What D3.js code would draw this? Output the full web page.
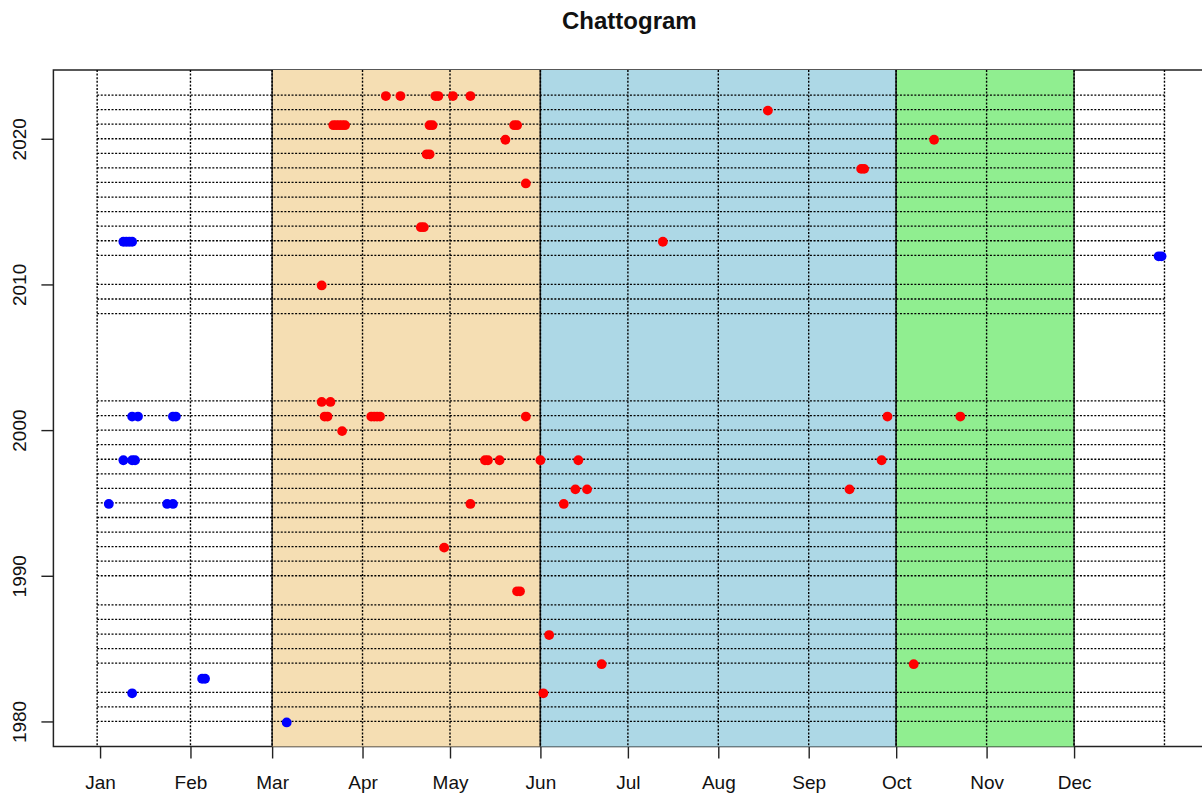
<!DOCTYPE html>
<html>
<head>
<meta charset="utf-8">
<script src="https://cdn.jsdelivr.net/npm/d3@7"></script>
<style>
  body { margin: 0; background: #fff; }
  text { font-family: "Liberation Sans", Arial, sans-serif; }
</style>
</head>
<body>
<div id="chart"></div>
<script>
// Data: [year, day of year]
const blueEvents = [
  [2013, 9], [2013, 10], [2013, 11], [2013, 12],
  [2012, 364], [2012, 365],
  [2001, 12], [2001, 14], [2001, 26], [2001, 27],
  [1998, 9], [1998, 12], [1998, 13],
  [1995, 4], [1995, 24], [1995, 26],
  [1983, 36], [1983, 37],
  [1982, 12],
  [1980, 65]
];

const redEvents = [
  [2023, 99], [2023, 104], [2023, 116], [2023, 117], [2023, 122], [2023, 128],
  [2022, 230],
  [2021, 81], [2021, 82], [2021, 83], [2021, 84], [2021, 85], [2021, 114], [2021, 115], [2021, 143], [2021, 144],
  [2020, 140], [2020, 287],
  [2019, 113], [2019, 114],
  [2018, 262], [2018, 263],
  [2017, 147],
  [2014, 111], [2014, 112],
  [2013, 194],
  [2010, 77],
  [2002, 77], [2002, 80],
  [2001, 78], [2001, 79], [2001, 94], [2001, 95], [2001, 96], [2001, 97], [2001, 147], [2001, 271], [2001, 296],
  [2000, 84],
  [1998, 133], [1998, 134], [1998, 138], [1998, 152], [1998, 165], [1998, 269],
  [1996, 164], [1996, 168], [1996, 258],
  [1995, 128], [1995, 160],
  [1992, 119],
  [1989, 144], [1989, 145],
  [1986, 155],
  [1984, 173], [1984, 280],
  [1982, 153]
];

// years with a guide line
const lineYears = [1980, 1981, 1982, 1984, 1985, 1986, 1987, 1988, 1990, 1991, 1992,
  1993, 1994, 1995, 1996, 1997, 1998, 1999, 2000, 2001, 2002, 2008, 2009, 2010,
  2012, 2013, 2014, 2015, 2016, 2017, 2018, 2019, 2020, 2021, 2022, 2023];

const monthLabels = ["Jan", "Feb", "Mar", "Apr", "May", "Jun", "Jul", "Aug", "Sep", "Oct", "Nov", "Dec"];
const monthStarts = [1, 32, 60, 91, 121, 152, 182, 213, 244, 274, 305, 335];
const gridDays = [0, 32, 60, 91, 121, 152, 182, 213, 244, 274, 305, 335, 366];
const yearTicks = [1980, 1990, 2000, 2010, 2020];

// seasons: start day, end day, colour
const seasonStart = [60, 152, 274];
const seasonEnd = [152, 274, 335];
const seasonColor = ["#F5DEB3", "#ADD8E6", "#90EE90"];

const width = 1202, height = 796;
const plot = { left: 53.4, right: 1205.3, top: 70, bottom: 746.5 };

const svg = d3.select("#chart").append("svg")
  .attr("width", width)
  .attr("height", height);

const x = d3.scaleLinear().domain([-15, 380]).range([plot.left, plot.right]);
const y = d3.scaleLinear().domain([1978.28, 2024.72]).range([plot.bottom, plot.top]);

svg.append("defs").append("clipPath").attr("id", "clip")
  .append("rect")
  .attr("x", plot.left).attr("y", plot.top)
  .attr("width", plot.right - plot.left).attr("height", plot.bottom - plot.top);

// box
svg.append("rect")
  .attr("x", plot.left).attr("y", plot.top)
  .attr("width", plot.right - plot.left).attr("height", plot.bottom - plot.top)
  .attr("fill", "none").attr("stroke", "#222").attr("stroke-width", 1.5);

// axes
const xAxis = svg.append("g")
  .attr("transform", "translate(0," + plot.bottom + ")")
  .call(d3.axisBottom(x).tickValues(monthStarts)
    .tickFormat((d, i) => monthLabels[i]).tickSize(12).tickPadding(17));
xAxis.select(".domain").remove();
xAxis.selectAll("line").attr("stroke", "#222").attr("stroke-width", 1.4);
xAxis.selectAll("text").attr("font-size", 19).attr("fill", "#111");

const yAxis = svg.append("g")
  .attr("transform", "translate(" + plot.left + ",0)")
  .call(d3.axisLeft(y).tickValues(yearTicks).tickFormat(d3.format("d")).tickSize(12));
yAxis.select(".domain").remove();
yAxis.selectAll("line").attr("stroke", "#222").attr("stroke-width", 1.4);
yAxis.selectAll("text")
  .attr("font-size", 19).attr("fill", "#111")
  .attr("transform", "rotate(-90)")
  .attr("x", 0).attr("y", -27.6).attr("dy", 0)
  .attr("text-anchor", "middle");

const inner = svg.append("g").attr("clip-path", "url(#clip)");

// season bands
inner.selectAll("rect.season")
  .data(seasonStart)
  .enter().append("rect")
  .attr("class", "season")
  .attr("x", d => x(d))
  .attr("width", (d, i) => x(seasonEnd[i]) - x(d))
  .attr("y", plot.top - 10)
  .attr("height", plot.bottom - plot.top + 20)
  .attr("fill", (d, i) => seasonColor[i])
  .attr("stroke", "#222")
  .attr("stroke-width", 1.4);

// dotted grid
inner.selectAll("line.vgrid")
  .data(gridDays)
  .enter().append("line")
  .attr("class", "vgrid")
  .attr("x1", d => x(d)).attr("x2", d => x(d))
  .attr("y1", plot.top).attr("y2", plot.bottom)
  .attr("stroke", "#000").attr("stroke-width", 1.4)
  .attr("stroke-dasharray", "2,1.6");

inner.selectAll("line.hgrid")
  .data(lineYears)
  .enter().append("line")
  .attr("class", "hgrid")
  .attr("x1", x(0)).attr("x2", x(366))
  .attr("y1", d => y(d)).attr("y2", d => y(d))
  .attr("stroke", "#000").attr("stroke-width", 1.3)
  .attr("stroke-dasharray", "2,1.6");

// points
inner.selectAll("circle.blue")
  .data(blueEvents)
  .enter().append("circle")
  .attr("class", "blue")
  .attr("cx", d => x(d[1])).attr("cy", d => y(d[0]) + 1)
  .attr("r", 4.9).attr("fill", "#0000FF");

inner.selectAll("circle.red")
  .data(redEvents)
  .enter().append("circle")
  .attr("class", "red")
  .attr("cx", d => x(d[1])).attr("cy", d => y(d[0]) + 1)
  .attr("r", 4.9).attr("fill", "#FF0000");

// title
svg.append("text")
  .attr("x", (plot.left + plot.right) / 2)
  .attr("y", 29)
  .attr("text-anchor", "middle")
  .attr("font-size", 24)
  .attr("font-weight", "bold")
  .attr("fill", "#111")
  .text("Chattogram");
</script>
</body>
</html>
